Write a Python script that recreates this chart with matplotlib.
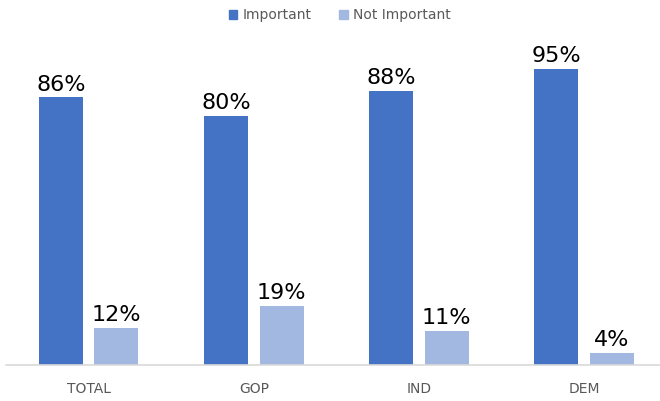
import matplotlib.pyplot as plt
import numpy as np
from matplotlib.patches import Patch

# Dados do gráfico
categorias = ['TOTAL', 'GOP', 'IND', 'DEM']
importante = [86, 80, 88, 95]
nao_importante = [12, 19, 11, 4]

cor_escura = '#4472C4'
cor_clara = '#A2B8E0'

fig = plt.figure(figsize=(6.6, 4.01), dpi=100)
ax = fig.add_axes([6 / 660, 36 / 401, 654 / 660, 311.6 / 401])

x = np.arange(len(categorias))
largura = 0.266
desloc = 0.168

b1 = ax.bar(x - desloc, importante, largura, color=cor_escura)
b2 = ax.bar(x + desloc, nao_importante, largura, color=cor_clara)

for barras in (b1, b2):
    for b in barras:
        ax.text(b.get_x() + b.get_width() / 2, b.get_height() + 0.8,
                f'{int(b.get_height())}%', ha='center', va='bottom',
                fontsize=16, color='black', family='DejaVu Sans')

ax.set_xlim(-0.5, -0.5 + 654 / 165.2)
ax.set_ylim(0, 100)
ax.set_yticks([])
ax.set_xticks(x)
ax.set_xticklabels(categorias, fontsize=10, color='#595959')
ax.tick_params(axis='x', length=0, pad=12)
for lado in ['top', 'right', 'left']:
    ax.spines[lado].set_visible(False)
ax.spines['bottom'].set_color('#D9D9D9')
ax.spines['bottom'].set_linewidth(1.2)

# Legenda no topo
handles = [Patch(color=cor_escura, label='Important'),
           Patch(color=cor_clara, label='Not Important')]
fig.legend(handles=handles, loc='upper center', bbox_to_anchor=(0.515, 1.01),
           ncol=2, frameon=False, fontsize=10, handlelength=0.6, handleheight=0.6,
           handletextpad=0.4, columnspacing=2.0, labelcolor='#595959')

plt.savefig('out.png')
plt.close()
